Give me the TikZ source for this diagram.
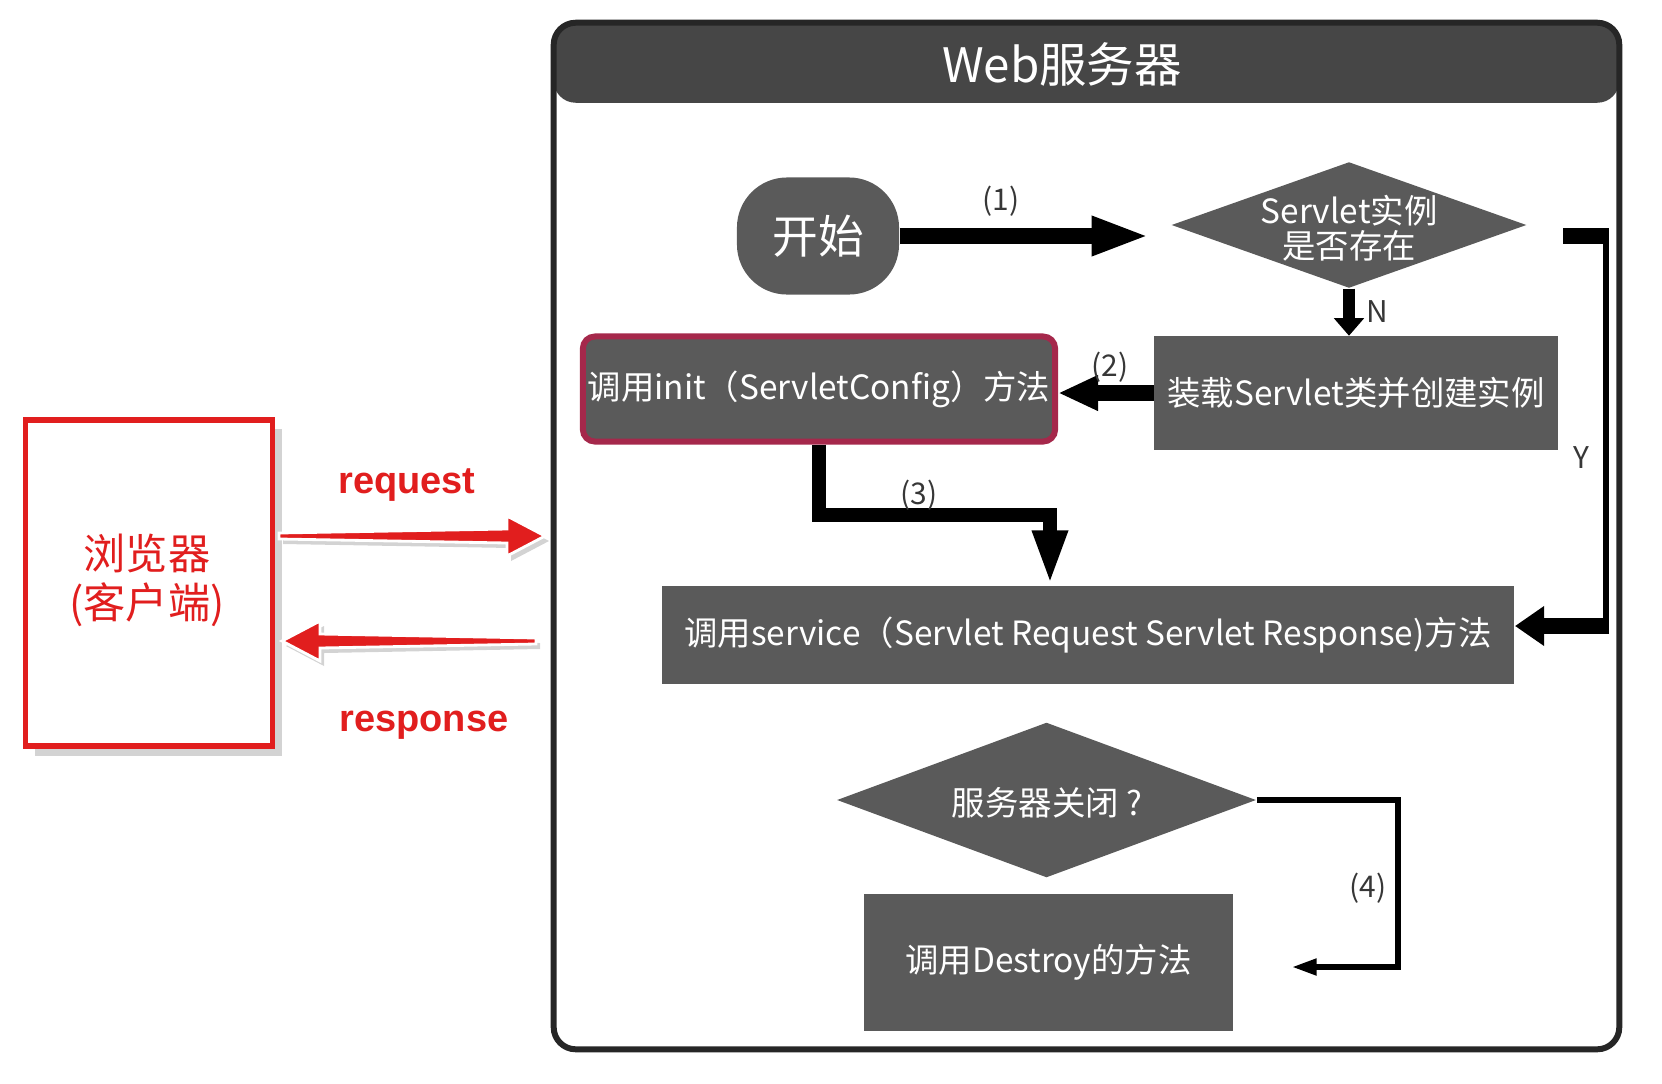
\documentclass[tikz,border=0pt]{standalone}
\usepackage{fontspec}
\setmainfont{Noto Sans CJK SC}
\newfontfamily\arialfont{Liberation Sans}
\usetikzlibrary{positioning,shapes.geometric,arrows.meta,shadows}

\definecolor{boxgray}{RGB}{90,90,90}
\definecolor{hdrgray}{RGB}{70,70,70}
\definecolor{initred}{RGB}{165,40,75}
\definecolor{webred}{RGB}{225,30,30}
\definecolor{numgray}{RGB}{55,55,55}

\begin{document}
\begin{tikzpicture}[x=0.01cm, y=-0.01cm,
  box/.style={rectangle, fill=boxgray, text=white, inner sep=0pt, font=\fontsize{9.5}{10}\selectfont},
  dia/.style={diamond, fill=boxgray, inner sep=0pt},
  wtext/.style={text=white, inner sep=0pt, align=center, font=\fontsize{9.5}{10}\selectfont},
  num/.style={text=numgray, inner sep=0pt, font=\fontsize{8.5}{10}\selectfont},
  flow/.style={draw=black, line width=4.3pt},
  redlabel/.style={text=webred, inner sep=0pt, font=\arialfont\bfseries\fontsize{10.8}{12}\selectfont},
  redarrow/.pic={
    \fill[webred, draw=white, line width=0.8pt,
      drop shadow={shadow xshift=0.4mm, shadow yshift=-0.5mm, opacity=0.35}]
      (0,-3) -- ({#1-38},-7) -- ({#1-38},-20) -- (#1,0) -- ({#1-38},20) -- ({#1-38},7) -- (0,3) -- cycle;
  }
]
\useasboundingbox (0,0) rectangle (1662,1084);

% Web server frame with dark header
\node[draw=black!85, line width=1.7pt, rounded corners=0.22cm,
  minimum width=10.65cm, minimum height=10.26cm,
  path picture={\fill[hdrgray] (path picture bounding box.north west)
    rectangle ([yshift=-0.8cm]path picture bounding box.north east);}] (server) at (1086.5,536) {};
\node[text=white, font=\fontsize{13.5}{15}\selectfont] (title) at (1062,64) {Web服务器};

% flow nodes
\node[box, rounded corners=0.5cm, minimum width=1.62cm, minimum height=1.17cm,
  font=\fontsize{13}{14}\selectfont] (start) at (818,236) {开始};
\node[dia, minimum width=3.55cm, minimum height=1.26cm] (exists) at (1349,225) {};
\node[wtext] (existstxt) at (1349,228) {Servlet实例\\是否存在};
\node[box, minimum width=4.03cm, minimum height=1.13cm] (load) at (1356,393) {装载Servlet类并创建实例};
\node[box, draw=initred, line width=1.7pt, rounded corners=0.12cm,
  minimum width=4.72cm, minimum height=1.05cm] (init) at (819,389) {调用init（ServletConfig）方法};
\node[box, minimum width=8.52cm, minimum height=0.98cm] (service) at (1088,635)
  {调用service（Servlet Request Servlet Response)方法};
\node[dia, minimum width=4.19cm, minimum height=1.55cm] (close) at (1046.5,800) {};
\node[wtext] (closetxt) at (1047,803) {服务器关闭 ?};
\node[box, minimum width=3.69cm, minimum height=1.37cm] (destroy) at (1048.5,962.5) {调用Destroy的方法};

% browser
\node[draw=webred, line width=1.5pt, fill=white, minimum width=2.47cm, minimum height=3.26cm,
  drop shadow={opacity=0.35}] (browser) at (149,583) {};
\node[text=webred, align=center, inner sep=0pt, font=\fontsize{12}{14}\selectfont] (browsertxt) at (147,580) {浏览器\\(客户端)};

% connectors
\coordinate (c1) at ([xshift=-0.21cm]exists.west);
\draw[flow, -{Triangle[length=16.5pt,width=10.2pt]}] (start.east) -- (start.east -| c1);
\draw[flow, line width=3.6pt, -{Triangle[length=5pt,width=8.3pt]}] (exists.south) -- (exists.south |- load.north);
\draw[flow, -{Triangle[length=11.4pt,width=9.4pt]}] (load.west) -- (load.west -| init.east);
\coordinate (c3) at (1050,515);
\draw[flow, line width=4pt, -{Triangle[length=15.6pt,width=9.1pt]}] (init.south) |- (c3) -- (c3 |- service.north);

\coordinate (yA) at (1563,236);
\coordinate (yB) at (1606,236);
\coordinate (yC) at (1606,626);
\draw[flow, line width=4.6pt] (yA) -- ([xshift=0.03cm]yB);
\draw[black, line width=1.8pt] (yB) -- (yC);
\draw[flow, line width=4.6pt, -{Triangle[length=8.3pt,width=10.8pt]}] ([xshift=0.03cm]yC) -- (yC -| service.east);

\coordinate (c4a) at (1398,967);
\coordinate (c4b) at (1292,967);
\draw[black, line width=1.5pt, -{Triangle[length=7pt,width=4.5pt]}] (close.east) -| (c4a) -- (c4b);

% labels
\node[num] (n1) at (1001,201) {(1)};
\node[num] (n2) at (1110,367) {(2)};
\node[num] (n3) at (919,495) {(3)};
\node[num] (n4) at (1368,888) {(4)};
\node[num] (nN) at (1377,312) {N};
\node[num] (nY) at (1581,458) {Y};

% request / response
\coordinate (reqA) at (279,536);
\coordinate (respA) at (536,641);
\pic at (reqA) {redarrow=266};
\pic[xscale=-1] at (respA) {redarrow=254};
\node[redlabel] (req) at (407,485) {request};
\node[redlabel] (resp) at (424,725) {response};

\end{tikzpicture}
\end{document}
